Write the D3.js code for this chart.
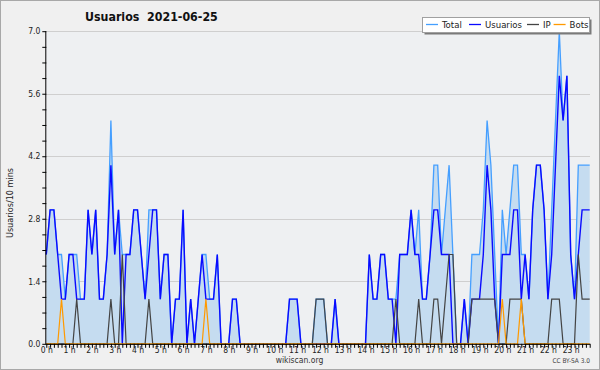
<!DOCTYPE html>
<html><head><meta charset="utf-8">
<script src="https://cdn.jsdelivr.net/npm/d3@7"></script>
<style>html,body{margin:0;padding:0;background:#f0f0f0;} svg{display:block;}</style>
</head><body>
<svg id="c" width="600" height="370"></svg>
<script>
const titleText = "Usuarios\u00a0\u00a02021-06-25";
const yLabel = "Usuarios/10 mins";
const hourLabels = ["0 h","1 h","2 h","3 h","4 h","5 h","6 h","7 h","8 h","9 h","10 h","11 h",
  "12 h","13 h","14 h","15 h","16 h","17 h","18 h","19 h","20 h","21 h","22 h","23 h"];
const yTickValues = [0, 1.4, 2.8, 4.2, 5.6, 7.0];
const legendLabels = ["Total","Usuarios","IP","Bots"];

// one value per 10 minutes (6 per hour), 00:00 .. 23:50
const total = [
  2,3,3,2,2,1, 2,2,2,1,1,3, 2,3,1,1,2,5, 2,3,2,2,2,3,
  3,2,1,3,3,3, 1,2,2,0,1,1, 3,0,1,0,1,2, 2,1,1,2,0,0,
  0,1,1,0,0,0, 0,0,0,0,0,0, 0,0,0,0,1,1, 1,0,0,0,0,1,
  1,1,0,0,1,0, 0,0,0,0,0,0, 0,2,1,1,2,2, 1,1,1,2,2,2,
  3,2,3,1,1,2, 4,4,2,3,4,2, 0,0,1,0,2,2, 2,3,5,4,2,0,
  3,2,3,4,4,2, 2,1,3,4,4,3, 1,3,5,7,5,6, 2,1,4,4,4,4];
const usuarios = [
  2,3,3,2,1,1, 2,2,1,1,1,3, 2,3,1,1,2,4, 2,3,0,2,2,3,
  3,2,1,2,3,3, 1,2,2,0,1,1, 3,0,1,0,1,2, 1,1,1,2,0,0,
  0,1,1,0,0,0, 0,0,0,0,0,0, 0,0,0,0,1,1, 1,0,0,0,0,0,
  0,0,0,0,1,0, 0,0,0,0,0,0, 0,2,1,1,2,2, 1,1,0,2,2,2,
  3,2,2,1,1,2, 3,3,2,2,2,0, 0,0,1,0,1,1, 1,2,4,3,1,0,
  2,2,2,3,3,1, 2,1,3,4,4,3, 1,2,4,6,5,6, 2,1,2,3,3,3];
const ip = [
  0,0,0,0,0,0, 0,0,1,0,0,0, 0,0,0,0,0,1, 0,0,2,0,0,0,
  0,0,0,1,0,0, 0,0,0,0,0,0, 0,0,0,0,0,0, 0,0,0,0,0,0,
  0,0,0,0,0,0, 0,0,0,0,0,0, 0,0,0,0,0,0, 0,0,0,0,0,1,
  1,1,0,0,0,0, 0,0,0,0,0,0, 0,0,0,0,0,0, 0,0,1,0,0,0,
  0,0,1,0,0,0, 1,1,0,1,2,2, 0,0,0,0,1,1, 1,1,1,1,1,0,
  0,0,1,1,1,1, 0,0,0,0,0,0, 0,1,1,1,0,0, 0,0,2,1,1,1];
const bots = [
  0,0,0,0,1,0, 0,0,0,0,0,0, 0,0,0,0,0,0, 0,0,0,0,0,0,
  0,0,0,0,0,0, 0,0,0,0,0,0, 0,0,0,0,0,0, 1,0,0,0,0,0,
  0,0,0,0,0,0, 0,0,0,0,0,0, 0,0,0,0,0,0, 0,0,0,0,0,0,
  0,0,0,0,0,0, 0,0,0,0,0,0, 0,0,0,0,0,0, 0,0,0,0,0,0,
  0,0,0,0,0,0, 0,0,0,0,0,0, 0,0,0,0,0,0, 0,0,0,0,0,0,
  1,0,0,0,0,1, 0,0,0,0,0,0, 0,0,0,0,0,0, 0,0,0,0,0,0];

(function(){
const FONT = "'DejaVu Sans Condensed','DejaVu Sans',sans-serif";
const colors = {total:"#459fff", fill:"#c5dcf0", usuarios:"#0a0aff", ip:"#444444", bots:"#ff9a00"};

const svg = d3.select("#c");
const W = 600, H = 370;
const pLeft = 46.3, pRight = 589.7, pTop = 31.2, pBottom = 343.8;

svg.append("rect").attr("x",0.5).attr("y",0.5).attr("width",W-1).attr("height",H-1)
  .attr("fill","#f0f0f0").attr("stroke","#a8a8a8").attr("stroke-width",1);

const x = d3.scaleLinear().domain([0, total.length-1]).range([pLeft, pRight]);
const y = d3.scaleLinear().domain([0, 7]).range([pBottom, pTop]);

svg.append("rect").attr("x",pLeft).attr("y",pTop).attr("width",590-pLeft).attr("height",pBottom-pTop)
  .attr("fill","#eef0f2");

svg.append("g").selectAll("line").data(yTickValues.filter(v=>v>0)).join("line")
  .attr("x1",pLeft).attr("x2",590).attr("y1",d=>Math.round(y(d))+0.5).attr("y2",d=>Math.round(y(d))+0.5)
  .attr("stroke","#cfcfcf").attr("stroke-width",1);

const idx = d3.range(total.length);
const area = d3.area().x(i=>x(i)).y0(y(0)).y1(i=>y(total[i]));
const line = arr => d3.line().x(i=>x(i)).y(i=>y(arr[i]));

svg.append("path").datum(idx).attr("d",area).attr("fill",colors.fill);
svg.append("path").datum(idx).attr("d",line(total)).attr("fill","none").attr("stroke",colors.total).attr("stroke-width",1.3);
svg.append("path").datum(idx).attr("d",line(usuarios)).attr("fill","none").attr("stroke",colors.usuarios).attr("stroke-width",1.4);
svg.append("path").datum(idx).attr("d",line(ip)).attr("fill","none").attr("stroke",colors.ip).attr("stroke-width",1.2);
svg.append("path").datum(idx).attr("d",line(bots)).attr("fill","none").attr("stroke",colors.bots).attr("stroke-width",1.2);

const xAxis = d3.axisBottom(x).tickValues(idx).tickSize(4).tickSizeOuter(0).tickPadding(0)
  .tickFormat(i => i % 6 === 0 ? hourLabels[i/6] : "");
const gx = svg.append("g").attr("transform",`translate(0,${pBottom})`).call(xAxis);
gx.select(".domain").attr("d",`M${pLeft},0.5H590`).attr("stroke","#000");
gx.selectAll(".tick line").attr("stroke","#000");
gx.selectAll(".tick text").attr("y",9.5).attr("dy",null).attr("font-family",FONT).attr("font-size",8.5).attr("fill","#222");

const yAxis = d3.axisLeft(y).tickValues(d3.range(0,21).map(k=>k*0.35)).tickSize(4).tickSizeOuter(0).tickPadding(2)
  .tickFormat((v,k) => k % 4 === 0 ? yTickValues[k/4].toFixed(1) : "");
const gy = svg.append("g").attr("transform",`translate(${pLeft},0)`).call(yAxis);
gy.select(".domain").attr("d",`M-0.5,${pTop}V${pBottom+0.5}`).attr("stroke","#000");
gy.selectAll(".tick line").attr("stroke","#000");
gy.selectAll(".tick text").attr("font-family",FONT).attr("font-size",8.5).attr("fill","#222");

svg.append("text").attr("x",85).attr("y",21).attr("font-family",FONT).attr("font-weight","bold")
  .attr("font-size",12.3).attr("fill","#111").text(titleText);

svg.append("text").attr("transform","translate(13,203) rotate(-90)").attr("text-anchor","middle")
  .attr("font-family",FONT).attr("font-size",9).attr("fill","#222").text(yLabel);

svg.append("text").attr("x",299.5).attr("y",363).attr("text-anchor","middle")
  .attr("font-family",FONT).attr("font-size",8.5).attr("fill","#333").text("wikiscan.org");
svg.append("text").attr("x",590).attr("y",363).attr("text-anchor","end")
  .attr("font-family",FONT).attr("font-size",6.5).attr("fill","#444").text("CC BY-SA 3.0");

const lg = svg.append("g");
lg.append("rect").attr("x",424.5).attr("y",19.5).attr("width",167).attr("height",15).attr("fill","#7a7a7a");
lg.append("rect").attr("x",422.5).attr("y",17.5).attr("width",167).attr("height",15).attr("fill","#fff").attr("stroke","#a0a0a0");
const legendColors = [colors.total, colors.usuarios, colors.ip, colors.bots];
const legendLineX = [426, 469, 527, 553.6];
legendLabels.forEach((lab,k)=>{
  lg.append("line").attr("x1",legendLineX[k]).attr("x2",legendLineX[k]+12).attr("y1",24.5).attr("y2",24.5)
    .attr("stroke",legendColors[k]).attr("stroke-width",1.3);
  lg.append("text").attr("x",legendLineX[k]+16).attr("y",28.3).attr("font-family",FONT).attr("font-size",9.5)
    .attr("fill","#222").text(lab);
});
})();
</script>
</body></html>
